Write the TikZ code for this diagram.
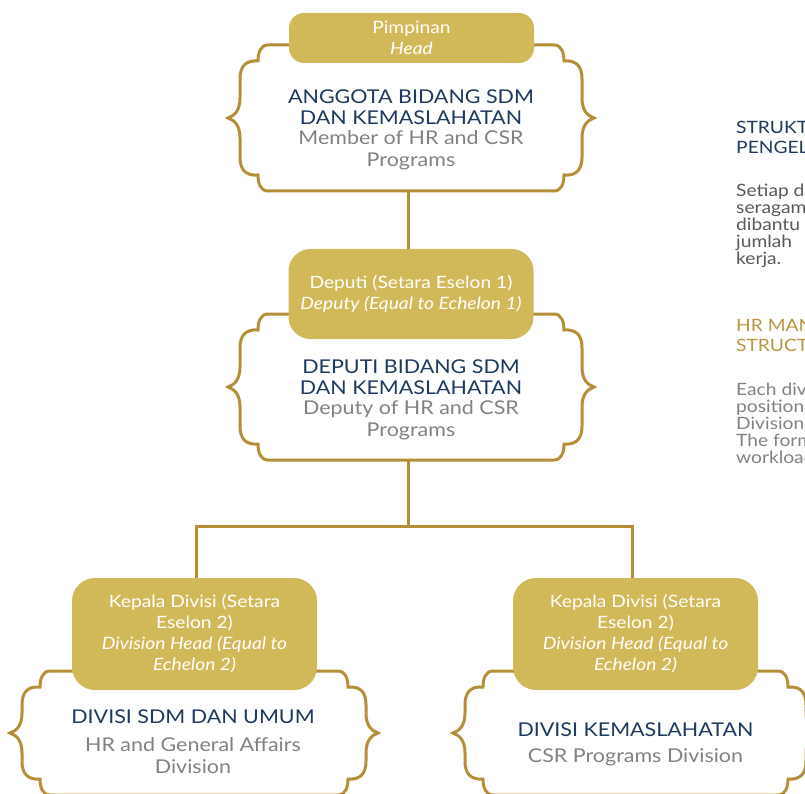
\documentclass[tikz,border=0pt]{standalone}
\usepackage{fontspec}
\setmainfont{Lato}[FakeStretch=1.13]
\definecolor{goldfill}{HTML}{D1B95A}
\definecolor{goldline}{HTML}{B58F37}
\definecolor{navy}{HTML}{1E3A60}
\definecolor{greytext}{HTML}{808285}
\definecolor{darkgrey}{HTML}{58595B}
\definecolor{goldhead}{HTML}{BC963F}
\newcommand\ornframe[4]{%
  \pgfmathsetmacro\ofL{#1}\pgfmathsetmacro\ofR{#2}%
  \pgfmathsetmacro\ofT{#3}\pgfmathsetmacro\ofB{#4}%
  \pgfmathsetmacro\ofM{(#3+#4)/2}%
  \draw[frameline] (\ofL+40,\ofT) -- (\ofR-40,\ofT)
   .. controls (\ofR-33,\ofT) and (\ofR-30,\ofT+7) .. (\ofR-30,\ofT+16)
   .. controls (\ofR-17,\ofT+15) and (\ofR-12,\ofT+22) .. (\ofR-12,\ofT+34)
   -- (\ofR-12,\ofM-20)
   .. controls (\ofR-12,\ofM-7) and (\ofR-6,\ofM-2) .. (\ofR,\ofM)
   .. controls (\ofR-6,\ofM+2) and (\ofR-12,\ofM+7) .. (\ofR-12,\ofM+20)
   -- (\ofR-12,\ofB-34)
   .. controls (\ofR-12,\ofB-22) and (\ofR-17,\ofB-15) .. (\ofR-30,\ofB-16)
   .. controls (\ofR-30,\ofB-7) and (\ofR-33,\ofB) .. (\ofR-40,\ofB)
   -- (\ofL+40,\ofB)
   .. controls (\ofL+33,\ofB) and (\ofL+30,\ofB-7) .. (\ofL+30,\ofB-16)
   .. controls (\ofL+17,\ofB-15) and (\ofL+12,\ofB-22) .. (\ofL+12,\ofB-34)
   -- (\ofL+12,\ofM+20)
   .. controls (\ofL+12,\ofM+7) and (\ofL+6,\ofM+2) .. (\ofL,\ofM)
   .. controls (\ofL+6,\ofM-2) and (\ofL+12,\ofM-7) .. (\ofL+12,\ofM-20)
   -- (\ofL+12,\ofT+34)
   .. controls (\ofL+12,\ofT+22) and (\ofL+17,\ofT+15) .. (\ofL+30,\ofT+16)
   .. controls (\ofL+30,\ofT+7) and (\ofL+33,\ofT) .. (\ofL+40,\ofT)
   -- cycle;}
\begin{document}
\begin{tikzpicture}[x=1pt,y=-1pt,
  frameline/.style={draw=goldline,line width=3pt,fill=white},
  link/.style={draw=goldline,line width=3pt},
  pill/.style={fill=goldfill,draw=none,minimum width=245pt,inner sep=0pt,
    text=white,align=center,font=\fontsize{17}{21}\selectfont},
  titletext/.style={text=navy,align=center,inner sep=0pt,font=\fontsize{19}{21}\selectfont},
  subtext/.style={text=greytext,align=center,inner sep=0pt,font=\fontsize{19}{22}\selectfont},
  sidehead/.style={anchor=north west,align=left,inner sep=0pt,font=\fontsize{17}{20}\selectfont},
  sidepara/.style={anchor=north west,align=left,inner sep=0pt,font=\fontsize{17}{17}\selectfont}]
\useasboundingbox (0,0) rectangle (805,794);
\clip (0,0) rectangle (805,794);
\fill[white] (0,0) rectangle (805,794);

% frames
\ornframe{228}{594}{45}{191}
\ornframe{228}{594}{314}{460}
\ornframe{10}{378}{671}{795}
\ornframe{453}{818}{671}{795}

% connector points
\coordinate (f1) at (408,191);
\coordinate (f2) at (408,460);
\coordinate (j) at (408,526);

% pills
\node[pill,minimum height=50pt,rounded corners=15pt] (p1) at (411.5,38) {Pimpinan\\\textit{Head}};
\node[pill,minimum height=90pt,rounded corners=22pt] (p2) at (411,294) {Deputi (Setara Eselon 1)\\\textit{Deputy (Equal to Echelon 1)}};
\node[pill,minimum height=112pt,rounded corners=23pt] (p3) at (194.5,634) {Kepala Divisi (Setara\\Eselon 2)\\\textit{Division Head (Equal to}\\\textit{Echelon 2)}};
\node[pill,minimum height=112pt,rounded corners=23pt] (p4) at (635.5,634) {Kepala Divisi (Setara\\Eselon 2)\\\textit{Division Head (Equal to}\\\textit{Echelon 2)}};

% connectors
\draw[link] (f1) -- (f1 |- p2.north);
\draw[link] (f2) -- (j);
\draw[link] ([xshift=1.5pt]p3.north) |- (j) -| ([xshift=-3.5pt]p4.north);

% box texts
\node[titletext] (t1) at (411,107.5) {ANGGOTA BIDANG SDM\\DAN KEMASLAHATAN};
\node[subtext] (s1) at (411,150.5) {Member of HR and CSR\\Programs};
\node[titletext] (t2) at (411,377.5) {DEPUTI BIDANG SDM\\DAN KEMASLAHATAN};
\node[subtext] (s2) at (411,420) {Deputy of HR and CSR\\Programs};
\node[titletext] (t3) at (193,717) {DIVISI SDM DAN UMUM};
\node[subtext] (s3) at (193,756) {HR and General Affairs\\Division};
\node[titletext] (t4) at (635.5,730) {DIVISI KEMASLAHATAN};
\node[subtext] (s4) at (635.5,757) {CSR Programs Division};

% side column (cut off by the page edge, as in the reference)
\node[sidehead,text=navy] (r1) at (736,121) {STRUKTUR\\PENGELOLAAN SDM};
\node[sidepara,text=darkgrey] (r2) at (736,184) {Setiap divisi\\seragam\\dibantu\\jumlah\\kerja.};
\node[sidehead,text=goldhead] (r3) at (736,319) {HR MANAGEMENT\\STRUCTURE};
\node[sidepara,text=greytext] (r4) at (736,383) {Each division\\position\\Division\\The form\\workload};
\end{tikzpicture}
\end{document}
